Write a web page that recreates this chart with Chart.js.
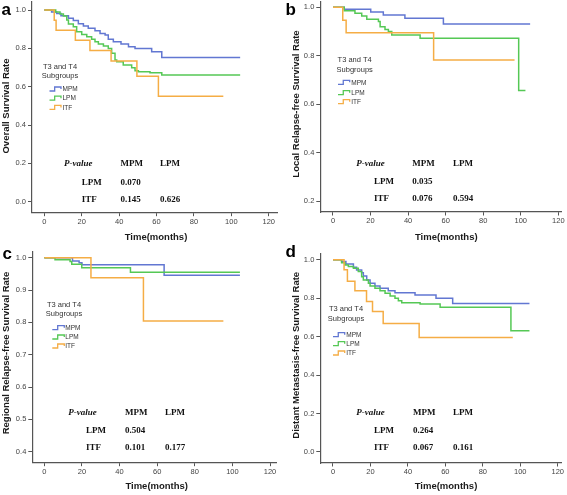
<!DOCTYPE html>
<html><head><meta charset="utf-8">
<script src="https://cdn.jsdelivr.net/npm/chart.js@4.4.1/dist/chart.umd.min.js"></script>
<style>
html,body{margin:0;padding:0;background:#fff;}
#wrap{position:relative;width:567px;height:495px;overflow:hidden;background:#fff;}
canvas{position:absolute;left:0;top:0;}
</style></head><body>
<div id="wrap">
<canvas id="ca" width="567" height="495"></canvas>
<canvas id="cb" width="567" height="495"></canvas>
<canvas id="cc" width="567" height="495"></canvas>
<canvas id="cd" width="567" height="495"></canvas>
</div>
<script>
// ---------- text ----------
const groups = ['MPM', 'LPM', 'ITF'];
const legendTitle = ['T3 and T4', 'Subgroups'];
const xTitle = 'Time(months)';
const panelLetters = ['a', 'b', 'c', 'd'];
const yTitles = ['Overall Survival Rate', 'Local Relapse-free Survival Rate',
                 'Regional Relapse-free Survival Rate', 'Distant Metastasis-free Survival Rate'];
const pHeader = ['P-value', 'MPM', 'LPM'];
const pRowLabels = ['LPM', 'ITF'];
const pValuesA = [['0.070', ''], ['0.145', '0.626']];
const pValuesB = [['0.035', ''], ['0.076', '0.594']];
const pValuesC = [['0.504', ''], ['0.101', '0.177']];
const pValuesD = [['0.264', ''], ['0.067', '0.161']];

// ---------- ticks ----------
const xTicks = [0, 20, 40, 60, 80, 100, 120];
const yTicksA = [0, 0.2, 0.4, 0.6, 0.8, 1.0];
const yTicksB = [0.2, 0.4, 0.6, 0.8, 1.0];
const yTicksC = [0.4, 0.5, 0.6, 0.7, 0.8, 0.9, 1.0];
const yTicksD = [0, 0.2, 0.4, 0.6, 0.8, 1.0];

// ---------- a: overall survival ----------
const osMonthsMPM = [0, 3.9, 6.6, 8.9, 12.9, 15.5, 18.2, 20.9, 23.5, 27.1, 29.8, 32.5, 34.2, 36.9, 41, 45, 48.5, 57.4, 62.8, 104.7];
const osRateMPM   = [1, 0.99, 0.982, 0.97, 0.957, 0.945, 0.928, 0.917, 0.905, 0.892, 0.878, 0.87, 0.847, 0.835, 0.823, 0.809, 0.8, 0.782, 0.753, 0.753];
const osMonthsLPM = [0, 6.1, 8.4, 10.2, 12, 12.9, 15.5, 17.3, 20, 22.7, 25.3, 27.1, 28.9, 31.6, 34.2, 36, 37.8, 38.7, 42.2, 46.7, 48.5, 50.3, 56.5, 62.8, 104.7];
const osRateLPM   = [1, 0.99, 0.979, 0.969, 0.948, 0.927, 0.913, 0.887, 0.873, 0.861, 0.847, 0.835, 0.823, 0.812, 0.8, 0.774, 0.739, 0.73, 0.713, 0.699, 0.683, 0.678, 0.673, 0.661, 0.661];
const osMonthsITF = [0, 5.3, 6.3, 16.6, 24.4, 35.7, 49.5, 61, 95.7];
const osRateITF   = [1, 0.947, 0.895, 0.842, 0.789, 0.734, 0.655, 0.55, 0.55];

// ---------- b: local relapse-free ----------
const lrMonthsMPM = [0, 6, 20.1, 26.8, 38.3, 58.8, 105];
const lrRateMPM   = [1, 0.992, 0.981, 0.968, 0.955, 0.931, 0.931];
const lrMonthsLPM = [0, 6, 11.7, 15.3, 18, 24.2, 25.1, 27.7, 29.5, 31.3, 46.4, 98.9, 102.5];
const lrRateLPM   = [1, 0.986, 0.975, 0.964, 0.951, 0.941, 0.92, 0.909, 0.9, 0.886, 0.872, 0.657, 0.657];
const lrMonthsITF = [0, 5.2, 7, 53.6, 96.7];
const lrRateITF   = [1, 0.947, 0.895, 0.783, 0.783];

// ---------- c: regional relapse-free ----------
const rrMonthsMPM = [0, 15, 18.5, 20, 63.7, 104];
const rrRateMPM   = [1, 0.99, 0.984, 0.978, 0.946, 0.946];
const rrMonthsLPM = [0, 5.7, 13.7, 14.6, 19.9, 45.8, 104];
const rrRateLPM   = [1, 0.994, 0.988, 0.98, 0.969, 0.955, 0.955];
const rrMonthsITF = [0, 24.8, 52.7, 95.2];
const rrRateITF   = [1, 0.938, 0.804, 0.804];

// ---------- d: distant metastasis-free ----------
const dmMonthsMPM = [0, 4.6, 6.9, 10.9, 12.6, 15.3, 16.2, 18, 19.8, 22.4, 25.1, 29.5, 33.1, 43.8, 55, 63.9, 104.9];
const dmRateMPM   = [1, 0.99, 0.978, 0.96, 0.946, 0.932, 0.915, 0.894, 0.877, 0.863, 0.851, 0.838, 0.828, 0.816, 0.8, 0.772, 0.772];
const dmMonthsLPM = [0, 4.6, 6.4, 8.2, 10.9, 13.5, 15.3, 16.2, 18.9, 19.8, 22.4, 25.1, 27.8, 30.5, 33.1, 34.9, 36.7, 46.5, 57.2, 95, 104.9];
const dmRateLPM   = [1, 0.984, 0.972, 0.964, 0.955, 0.938, 0.911, 0.894, 0.877, 0.863, 0.851, 0.838, 0.825, 0.811, 0.799, 0.786, 0.776, 0.769, 0.752, 0.63, 0.63];
const dmMonthsITF = [0, 5.9, 7.7, 11.7, 17.9, 21.1, 26.8, 46, 96];
const dmRateITF   = [1, 0.947, 0.888, 0.838, 0.782, 0.73, 0.668, 0.595, 0.595];

// ---------- styles ----------
const colors = {MPM: '#6277d2', LPM: '#55c855', ITF: '#f5ad45'};
const SANS = '"Liberation Sans", Arial, sans-serif';
const SERIF = '"Liberation Serif", "Times New Roman", serif';

const panels = [
  {id: 'ca', letter: panelLetters[0], letterPos: [1.5, 15], yTitle: yTitles[0],
   L: 32, R: 277, T: 2, B: 212.7, xmin: -6.58, xmax: 124.4, ymin: -0.0574, ymax: 1.042, yTicks: yTicksA,
   yTitlePos: [6.7, 106], xTitlePos: [156, 237],
   legend: {cx: 60, ty: [66.5, 75.7], iy: [89, 98.2, 107.4], ix0: 49.5, ix1: 61, tx: 62.5},
   table: {hy: 164, ry: [182.5, 200], px: 64, rx: 81.7, cx: [120.5, 160]}, pvals: pValuesA,
   series: [[osMonthsMPM, osRateMPM], [osMonthsLPM, osRateLPM], [osMonthsITF, osRateITF]]},
  {id: 'cb', letter: panelLetters[1], letterPos: [285.5, 15], yTitle: yTitles[1],
   L: 320.3, R: 561.3, T: 2, B: 212, xmin: -6.76, xmax: 121.6, ymin: 0.1559, ymax: 1.0219, yTicks: yTicksB,
   yTitlePos: [296.3, 104], xTitlePos: [446.3, 237.3],
   legend: {cx: 354.7, ty: [59.7, 70], iy: [82.3, 92.7, 101.7], ix0: 338, ix1: 349.7, tx: 351.3},
   table: {hy: 163.3, ry: [181.7, 199], px: 356.3, rx: 374, cx: [412.3, 453]}, pvals: pValuesB,
   series: [[lrMonthsMPM, lrRateMPM], [lrMonthsLPM, lrRateLPM], [lrMonthsITF, lrRateITF]]},
  {id: 'cc', letter: panelLetters[2], letterPos: [2.5, 258.7], yTitle: yTitles[2],
   L: 32.3, R: 276.7, T: 252, B: 462.7, xmin: -6.38, xmax: 123.55, ymin: 0.366, ymax: 1.0176, yTicks: yTicksC,
   yTitlePos: [6.7, 353], xTitlePos: [156.7, 486.3],
   legend: {cx: 64, ty: [305.3, 313.7], iy: [327.7, 337, 346], ix0: 52.3, ix1: 64.3, tx: 65.3},
   table: {hy: 412.7, ry: [430.7, 448], px: 68.3, rx: 86, cx: [125, 165]}, pvals: pValuesC,
   series: [[rrMonthsMPM, rrRateMPM], [rrMonthsLPM, rrRateLPM], [rrMonthsITF, rrRateITF]]},
  {id: 'cd', letter: panelLetters[3], letterPos: [285.5, 257], yTitle: yTitles[3],
   L: 320.3, R: 561.3, T: 253.7, B: 463, xmin: -6.78, xmax: 121.9, ymin: -0.0572, ymax: 1.031, yTicks: yTicksD,
   yTitlePos: [296.3, 355.3], xTitlePos: [446, 486.3],
   legend: {cx: 346, ty: [309.3, 318.7], iy: [334.7, 343.7, 353], ix0: 333, ix1: 344.7, tx: 346.3},
   table: {hy: 412.7, ry: [430.3, 448], px: 356.3, rx: 374, cx: [413, 453]}, pvals: pValuesD,
   series: [[dmMonthsMPM, dmRateMPM], [dmMonthsLPM, dmRateLPM], [dmMonthsITF, dmRateITF]]}
];

function decor(p) {
  return {
    id: 'decor_' + p.letter,
    afterDraw(chart) {
      const ctx = chart.ctx;
      ctx.save();
      // panel letter
      ctx.fillStyle = '#000';
      ctx.font = 'bold 17px ' + SANS;
      ctx.textAlign = 'left'; ctx.textBaseline = 'alphabetic';
      ctx.fillText(p.letter, p.letterPos[0], p.letterPos[1]);
      // y title
      ctx.fillStyle = '#1a1a1a';
      ctx.font = 'bold 9.5px ' + SANS;
      ctx.textAlign = 'center'; ctx.textBaseline = 'middle';
      ctx.save();
      ctx.translate(p.yTitlePos[0], p.yTitlePos[1]);
      ctx.rotate(-Math.PI / 2);
      ctx.fillText(p.yTitle, 0, 0);
      ctx.restore();
      // x title
      ctx.fillText(xTitle, p.xTitlePos[0], p.xTitlePos[1]);
      // legend
      const lg = p.legend;
      ctx.fillStyle = '#333';
      ctx.font = '7.5px ' + SANS;
      ctx.textAlign = 'center';
      legendTitle.forEach((t, i) => ctx.fillText(t, lg.cx, lg.ty[i]));
      ctx.font = '6.5px ' + SANS;
      ctx.textAlign = 'left';
      groups.forEach((g, i) => {
        const y = lg.iy[i];
        ctx.strokeStyle = colors[g];
        ctx.lineWidth = 1.3;
        const xm = lg.ix0 + (lg.ix1 - lg.ix0) * 0.45;
        ctx.beginPath();
        ctx.moveTo(lg.ix0, y + 2);
        ctx.lineTo(xm, y + 2);
        ctx.lineTo(xm, y - 2);
        ctx.lineTo(lg.ix1, y - 2);
        ctx.lineTo(lg.ix1, y);
        ctx.stroke();
        ctx.fillStyle = '#333';
        ctx.fillText(g, lg.tx, y + 0.5);
      });
      // p-value table
      const tb = p.table;
      ctx.fillStyle = '#111';
      ctx.textAlign = 'left'; ctx.textBaseline = 'middle';
      ctx.font = 'italic bold 9px ' + SERIF;
      ctx.fillText(pHeader[0], tb.px, tb.hy);
      ctx.font = 'bold 9px ' + SERIF;
      ctx.fillText(pHeader[1], tb.cx[0], tb.hy);
      ctx.fillText(pHeader[2], tb.cx[1], tb.hy);
      pRowLabels.forEach((r, i) => {
        ctx.fillText(r, tb.rx, tb.ry[i]);
        p.pvals[i].forEach((v, j) => { if (v) ctx.fillText(v, tb.cx[j], tb.ry[i]); });
      });
      ctx.restore();
    }
  };
}

const W = 567, H = 495, YW = 30, XH = 20;
function zeroPad(s) { s.paddingLeft = 0; s.paddingRight = 0; s.paddingTop = 0; s.paddingBottom = 0; }

panels.forEach(p => {
  const drawOrder = [2, 1, 0]; // ITF on top
  const datasets = p.series.map((s, i) => ({
    label: groups[i],
    data: s[0].map((t, k) => ({x: t, y: s[1][k]})),
    borderColor: colors[groups[i]],
    borderWidth: 1.5,
    pointRadius: 0,
    stepped: 'before',
    fill: false,
    tension: 0,
    order: drawOrder[i]
  }));
  new Chart(document.getElementById(p.id), {
    type: 'line',
    data: {datasets},
    options: {
      responsive: false, animation: false, events: [],
      layout: {padding: {left: p.L - YW, right: W - p.R, top: p.T, bottom: H - p.B - XH}},
      plugins: {legend: {display: false}, tooltip: {enabled: false}, title: {display: false}},
      scales: {
        x: {
          type: 'linear', min: p.xmin, max: p.xmax,
          afterBuildTicks(s) { s.ticks = xTicks.map(v => ({value: v})); },
          afterFit(s) { s.height = XH; zeroPad(s); },
          grid: {display: true, drawOnChartArea: false, drawTicks: true, tickLength: 3.5, color: '#555', lineWidth: 1},
          border: {display: true, color: '#555', width: 1.2},
          ticks: {font: {family: SANS, size: 7.5}, color: '#444', padding: 1, maxRotation: 0, autoSkip: false,
                  callback: v => String(v)}
        },
        y: {
          type: 'linear', min: p.ymin, max: p.ymax,
          afterBuildTicks(s) { s.ticks = p.yTicks.map(v => ({value: v})); },
          afterFit(s) { s.width = YW; zeroPad(s); },
          grid: {display: true, drawOnChartArea: false, drawTicks: true, tickLength: 4, color: '#555', lineWidth: 1},
          border: {display: true, color: '#555', width: 1.2},
          ticks: {font: {family: SANS, size: 7.5}, color: '#444', padding: 2, autoSkip: false,
                  callback: v => Number(v).toFixed(1)}
        }
      }
    },
    plugins: [decor(p)]
  });
});
</script>
</body></html>
